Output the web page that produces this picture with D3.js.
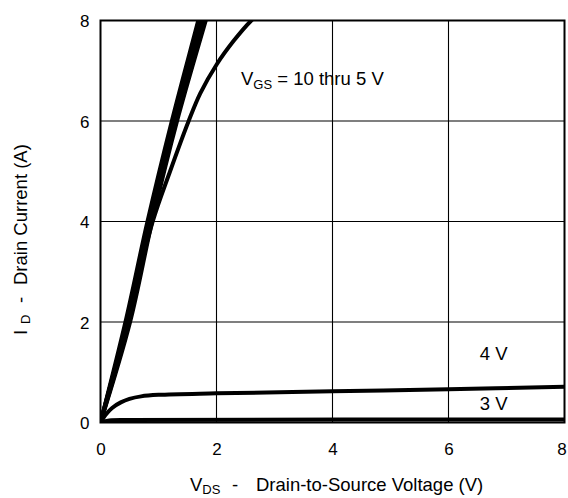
<!DOCTYPE html>
<html>
<head>
<meta charset="utf-8">
<script src="https://cdn.jsdelivr.net/npm/d3@7"></script>
<style>
  html, body { margin: 0; padding: 0; background: #fff; }
  svg { display: block; font-family: "Liberation Sans", Arial, Helvetica, sans-serif; }
</style>
</head>
<body>
<svg id="chart" width="568" height="498"></svg>
<script>
// ---- data ----
const xTicks = [0, 2, 4, 6, 8];
const yTicks = [0, 2, 4, 6, 8];
const gridX = [2, 4, 6];
const gridY = [2, 4, 6];

// Output characteristics, points as [V_DS (V), I_D (A)]
const curve10V = [[0,0],[0.43,2],[0.81,4],[1.23,6],[1.685,8],[1.75,8.3]];
const curve9V  = [[0,0],[0.45,2],[0.83,4],[1.25,6],[1.72,8],[1.79,8.3]];
const curve8V  = [[0,0],[0.47,2],[0.85,4],[1.27,6],[1.75,8],[1.82,8.3]];
const curve7V  = [[0,0],[0.49,2],[0.87,4],[1.30,6],[1.78,8],[1.85,8.3]];
const curve6V  = [[0,0],[0.51,2],[0.89,4],[1.32,6],[1.815,8],[1.89,8.3]];
const curve5V  = [[0,0],[0.46,2],[0.9,4],[1.2,5],[1.52,6],[1.72,6.55],[2.0,7.12],[2.3,7.6],[2.6,8],[2.9,8.3]];
const curve4V  = [[0,0],[0.1,0.17],[0.2,0.29],[0.35,0.4],[0.5,0.47],[0.7,0.52],[1,0.55],[2,0.58],[4,0.62],[6,0.66],[8,0.71]];
const curve3V  = [[0,0],[0.15,0.04],[0.5,0.05],[8,0.06]];
const curves = [curve10V, curve9V, curve8V, curve7V, curve6V, curve5V, curve4V, curve3V];

const bandLabel = "10 thru 5 V";
const curveLabels = [{text: "4 V", v: 6.54, i: 1.25}, {text: "3 V", v: 6.54, i: 0.25}];

// ---- drawing ----
const svg = d3.select("#chart");
const x = d3.scaleLinear().domain([0, 8]).range([100.5, 564.5]);
const y = d3.scaleLinear().domain([0, 8]).range([422.5, 20.5]);

svg.append("defs").append("clipPath").attr("id", "plotclip")
  .append("rect").attr("x", x(0)).attr("y", y(8))
  .attr("width", x(8) - x(0)).attr("height", y(0) - y(8));

// grid lines
svg.append("g").selectAll("line").data(gridX).join("line")
  .attr("x1", d => x(d)).attr("x2", d => x(d))
  .attr("y1", y(0)).attr("y2", y(8))
  .attr("stroke", "#000").attr("stroke-width", 1.1);
svg.append("g").selectAll("line").data(gridY).join("line")
  .attr("x1", x(0)).attr("x2", x(8))
  .attr("y1", d => y(d)).attr("y2", d => y(d))
  .attr("stroke", "#000").attr("stroke-width", 1.1);

// curves
const line = d3.line().x(d => x(d[0])).y(d => y(d[1])).curve(d3.curveCatmullRom.alpha(0.5));
svg.append("g").attr("clip-path", "url(#plotclip)")
  .selectAll("path").data(curves).join("path")
  .attr("d", line)
  .attr("fill", "none").attr("stroke", "#000")
  .attr("stroke-width", 4).attr("stroke-linejoin", "round").attr("stroke-linecap", "round");

// frame
svg.append("rect").attr("x", x(0)).attr("y", y(8))
  .attr("width", x(8) - x(0)).attr("height", y(0) - y(8))
  .attr("fill", "none").attr("stroke", "#000").attr("stroke-width", 2);

// axes (labels only)
const xAxis = d3.axisBottom(x).tickValues(xTicks).tickSize(0).tickPadding(0).tickFormat(d3.format("d"));
const gx = svg.append("g").attr("transform", `translate(0,${y(0)})`).call(xAxis);
gx.select(".domain").remove();
gx.selectAll("text").attr("y", 32).attr("dy", null).attr("font-size", 17).attr("fill", "#000")
  .attr("font-family", "Liberation Sans, Arial, sans-serif")
  .attr("dx", d => d === 8 ? -3 : 0);

const yAxis = d3.axisLeft(y).tickValues(yTicks).tickSize(0).tickPadding(0).tickFormat(d3.format("d"));
const gy = svg.append("g").attr("transform", `translate(${x(0)},0)`).call(yAxis);
gy.select(".domain").remove();
gy.selectAll("text").attr("x", -11).attr("dy", "0.36em").attr("font-size", 17).attr("fill", "#000")
  .attr("font-family", "Liberation Sans, Arial, sans-serif");

// V_GS label
const vgs = svg.append("text").attr("x", 241).attr("y", 85).attr("font-size", 18.5).attr("fill", "#000");
vgs.append("tspan").text("V");
vgs.append("tspan").attr("font-size", 13).attr("dy", 4).text("GS");
vgs.append("tspan").attr("dy", -4).text(" = " + bandLabel);

svg.selectAll("text.cl").data(curveLabels).join("text")
  .attr("class", "cl")
  .attr("x", d => x(d.v)).attr("y", d => y(d.i))
  .attr("font-size", 18.5).attr("fill", "#000")
  .text(d => d.text);

// x title
const xt = svg.append("text").attr("y", 491).attr("font-size", 18.5).attr("fill", "#000");
xt.append("tspan").attr("x", 190).text("V");
xt.append("tspan").attr("font-size", 13).attr("dy", 3).text("DS");
xt.append("tspan").attr("x", 232).attr("dy", -3).text("-");
xt.append("tspan").attr("x", 256).text("Drain-to-Source Voltage (V)");

// y title
const yt = svg.append("text").attr("transform", "translate(26.5,335) rotate(-90)")
  .attr("font-size", 18.5).attr("fill", "#000");
yt.append("tspan").attr("x", 0).text("I");
yt.append("tspan").attr("x", 11).attr("font-size", 13).attr("dy", 3).text("D");
yt.append("tspan").attr("x", 32).attr("dy", -3).text("-");
yt.append("tspan").attr("x", 50).text("Drain Current (A)");
</script>
</body>
</html>
